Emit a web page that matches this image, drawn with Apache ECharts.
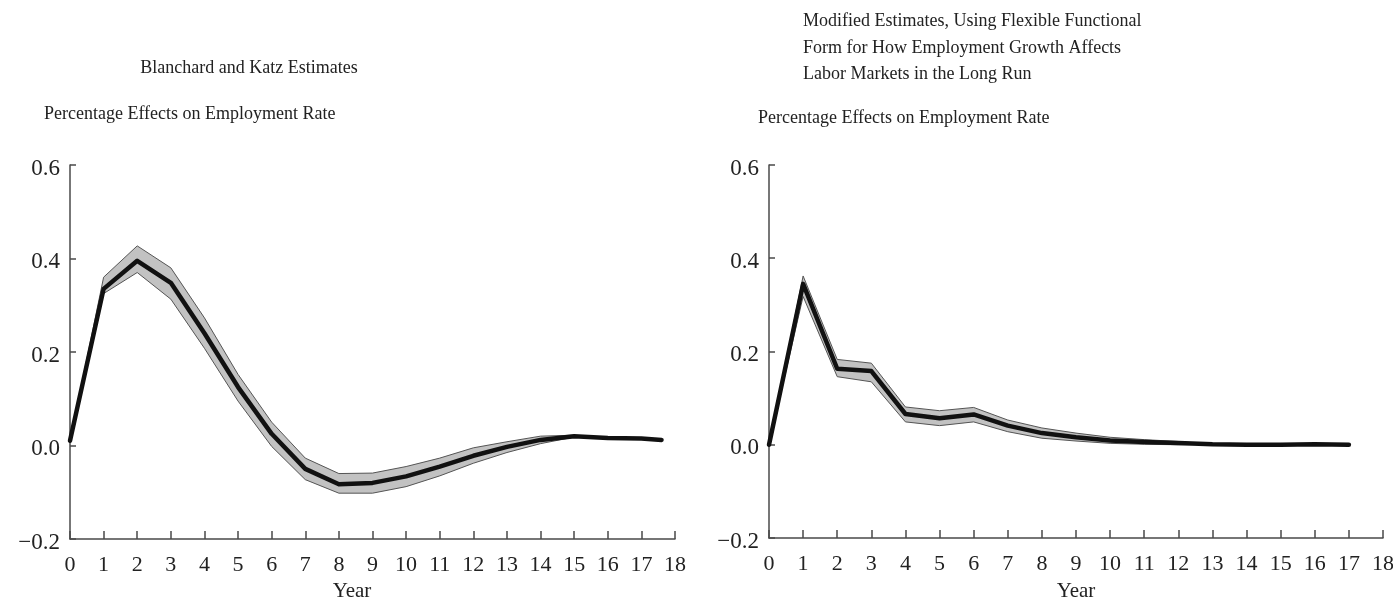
<!DOCTYPE html>
<html><head><meta charset="utf-8">
<script src="https://cdn.jsdelivr.net/npm/echarts@6/dist/echarts.min.js"></script>
<style>html,body{margin:0;padding:0;background:#fff}#c{width:1393px;height:600px}</style>
</head><body><div id="c"></div>
<script>
// ---- Left panel: Blanchard and Katz Estimates ----
const leftYears  = [0, 1, 2, 3, 4, 5, 6, 7, 8, 9, 10, 11, 12, 13, 14, 15, 16, 17, 17.6];
const leftCenter = [0.01, 0.335, 0.395, 0.348, 0.24, 0.125, 0.025, -0.05, -0.083, -0.08, -0.066, -0.045, -0.022, -0.003, 0.012, 0.02, 0.016, 0.015, 0.012];
const leftBandYears = [0, 1, 2, 3, 4, 5, 6, 7, 8, 9, 10, 11, 12, 13, 14, 15];
const leftUpper = [0.01, 0.36, 0.427, 0.38, 0.273, 0.152, 0.05, -0.027, -0.06, -0.059, -0.045, -0.027, -0.005, 0.008, 0.02, 0.022];
const leftLower = [0.01, 0.325, 0.37, 0.313, 0.208, 0.095, -0.002, -0.073, -0.102, -0.102, -0.088, -0.065, -0.038, -0.015, 0.004, 0.018];

// ---- Right panel: Modified Estimates ----
const rightYears  = [0, 1, 2, 3, 4, 5, 6, 7, 8, 9, 10, 11, 12, 13, 14, 15, 16, 17];
const rightCenter = [0.0, 0.345, 0.163, 0.158, 0.066, 0.057, 0.065, 0.041, 0.025, 0.016, 0.009, 0.006, 0.004, 0.001, 0.0, 0.0, 0.001, 0.0];
const rightBandYears = [0, 1, 2, 3, 4, 5, 6, 7, 8, 9, 10, 11, 12, 13];
const rightUpper = [0.0, 0.362, 0.183, 0.175, 0.081, 0.073, 0.08, 0.053, 0.036, 0.025, 0.016, 0.011, 0.007, 0.001];
const rightLower = [0.0, 0.318, 0.146, 0.135, 0.049, 0.041, 0.049, 0.028, 0.014, 0.008, 0.003, 0.001, 0.0, 0.001];

// ---- Text ----
const leftTitle = 'Blanchard and Katz Estimates';
const rightTitle = ['Modified Estimates, Using Flexible Functional', 'Form for How Employment Growth Affects', 'Labor Markets in the Long Run'];
const yAxisTitle = 'Percentage Effects on Employment Rate';
const xAxisTitle = 'Year';

const FONT = "'Liberation Serif', 'Times New Roman', serif";
const TXT = '#222';
const AX = '#4a4a4a';

const pairs = (xs, ys) => xs.map((x, i) => [x, ys[i]]);
const triples = (xs, lo, up) => xs.map((x, i) => [x, lo[i], up[i]]);

function xAxis(gridIndex, padRight, gap) {
  return {
    type: 'value', gridIndex, min: 0, max: 18, interval: 1,
    name: xAxisTitle, nameLocation: 'middle', nameGap: gap,
    nameTextStyle: { fontFamily: FONT, fontSize: 21, color: TXT, padding: [0, padRight, 0, 0] },
    axisLine: { show: true, onZero: false, lineStyle: { color: AX, width: 1.5 } },
    axisTick: { show: true, inside: true, length: 8, lineStyle: { color: AX, width: 1.5 } },
    axisLabel: { fontFamily: FONT, fontSize: 22, color: TXT, margin: 15 },
    splitLine: { show: false }
  };
}
function yAxis(gridIndex) {
  return {
    type: 'value', gridIndex, min: -0.2, max: 0.6, interval: 0.2,
    axisLine: { show: true, lineStyle: { color: AX, width: 1.5 } },
    axisTick: { show: true, inside: true, length: 6, lineStyle: { color: AX, width: 1.5 } },
    axisLabel: {
      color: TXT, margin: 10,
      formatter: v => '{a|' + (v < -1e-9 ? '\u2212' : '') + Math.abs(v).toFixed(1) + '}',
      rich: { a: { fontFamily: FONT, fontSize: 23, color: TXT, padding: [7, 0, 0, 0] } }
    },
    splitLine: { show: false }
  };
}
function bandSeries(idx, years, up, lo, center, cyears) {
  const data = triples(years, lo, up);
  return [
    {
      type: 'custom', xAxisIndex: idx, yAxisIndex: idx, z: 2,
      data: data, encode: { x: 0, y: [1, 2] },
      renderItem: function (params, api) {
        if (params.dataIndex !== 0) return null;
        const upPts = data.map(d => api.coord([d[0], d[2]]));
        const loPts = data.map(d => api.coord([d[0], d[1]]));
        const poly = upPts.concat(loPts.slice().reverse());
        return {
          type: 'group',
          children: [
            { type: 'polygon', shape: { points: poly }, style: { fill: '#c2c2c2', stroke: null } },
            { type: 'polyline', shape: { points: upPts }, style: { fill: null, stroke: '#555', lineWidth: 1 } },
            { type: 'polyline', shape: { points: loPts }, style: { fill: null, stroke: '#555', lineWidth: 1 } }
          ]
        };
      }
    },
    {
      type: 'line', xAxisIndex: idx, yAxisIndex: idx,
      data: pairs(cyears, center), symbol: 'none', z: 4,
      lineStyle: { color: '#111', width: 4.5, cap: 'round', join: 'round' }
    }
  ];
}

const chart = echarts.init(document.getElementById('c'), null, { renderer: 'canvas' });
chart.setOption({
  backgroundColor: '#fff',
  animation: false,
  grid: [
    { left: 70, top: 165, width: 605, height: 374, containLabel: false, outerBoundsMode: 'none' },
    { left: 769, top: 165, width: 614, height: 373, containLabel: false, outerBoundsMode: 'none' }
  ],
  xAxis: [xAxis(0, 41, 35), xAxis(1, 0, 43)],
  yAxis: [yAxis(0), yAxis(1)],
  series: [
    ...bandSeries(0, leftBandYears, leftUpper, leftLower, leftCenter, leftYears),
    ...bandSeries(1, rightBandYears, rightUpper, rightLower, rightCenter, rightYears)
  ],
  graphic: [
    { type: 'text', x: 249, y: 68, style: { text: leftTitle, fontFamily: FONT, fontSize: 18, fill: TXT, align: 'center', verticalAlign: 'middle' } },
    { type: 'text', x: 44, y: 114, style: { text: yAxisTitle, fontFamily: FONT, fontSize: 18, fill: TXT, align: 'left', verticalAlign: 'middle' } },
    { type: 'text', x: 803, y: 21, style: { text: rightTitle[0], fontFamily: FONT, fontSize: 18, fill: TXT, align: 'left', verticalAlign: 'middle' } },
    { type: 'text', x: 803, y: 48, style: { text: rightTitle[1], fontFamily: FONT, fontSize: 18, fill: TXT, align: 'left', verticalAlign: 'middle' } },
    { type: 'text', x: 803, y: 74, style: { text: rightTitle[2], fontFamily: FONT, fontSize: 18, fill: TXT, align: 'left', verticalAlign: 'middle' } },
    { type: 'text', x: 758, y: 118, style: { text: yAxisTitle, fontFamily: FONT, fontSize: 18, fill: TXT, align: 'left', verticalAlign: 'middle' } }
  ]
});
</script>
</body></html>
